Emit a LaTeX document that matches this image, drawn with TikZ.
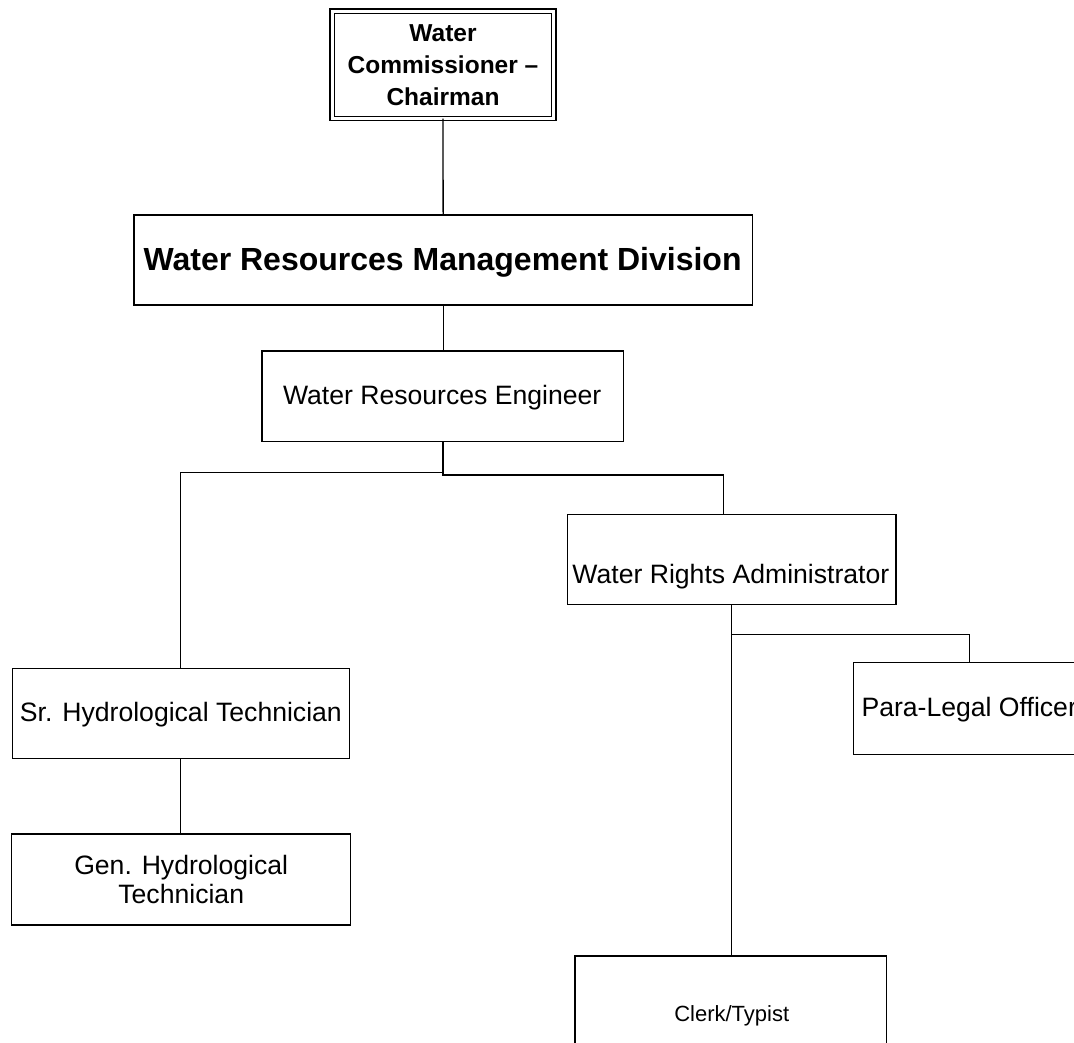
\documentclass[tikz,border=0pt]{standalone}
\usepackage{fontspec}
\setmainfont{Liberation Sans}
\usetikzlibrary{calc}
\begin{document}
\begin{tikzpicture}[x=1pt,y=-1pt,line width=1.3pt,
  orgbox/.style={draw,rectangle,inner sep=0pt,outer sep=0pt,line width=1.3pt},
  txt/.style={inner sep=0pt,outer sep=0pt,font=\fontsize{26.6}{31}\selectfont},
  conn/.style={draw,line width=1.3pt}]
\useasboundingbox (0,0) rectangle (1074,1042);
\clip (0,0) rectangle (1074,1042);
% boxes
\node[orgbox,double,double distance=3pt,minimum width=221.7pt,minimum height=107.55pt] (chair) at (443,64.9) {};
\node[orgbox,minimum width=618.3pt,minimum height=90pt] (wrmd) at (443.15,260) {};
\node[orgbox,minimum width=361.7pt,minimum height=90.7pt] (wre) at (442.85,396.35) {};
\node[orgbox,minimum width=328.7pt,minimum height=90pt] (wra) at (731.65,559.7) {};
\node[orgbox,minimum width=337pt,minimum height=90pt] (sht) at (180.8,713.3) {};
\node[orgbox,minimum width=339pt,minimum height=91pt] (ght) at (181.2,879.5) {};
\node[orgbox,minimum width=232pt,minimum height=91.6pt] (para) at (969.3,708.5) {};
\node[orgbox,minimum width=311.7pt,minimum height=104pt] (clerk) at (730.85,1008) {};
% texts
\node[inner sep=0pt,align=center,font=\fontsize{24.5}{32.2}\selectfont\bfseries] (chairt) at (chair.center) {Water\\Commissioner –\\Chairman};
\node[txt,anchor=base,font=\fontsize{32}{38}\selectfont\bfseries] (wrmdt) at (442.6,270.7) {Water Resources Management Division};
\node[txt,anchor=base] (wret) at (442.2,404.3) {Water Resources Engineer};
\node[txt,anchor=base] (wrat) at (730.9,583) {Water Rights Administrator};
\node[txt,anchor=base] (shtt) at (180.9,721.7) {Sr. Hydrological Technician};
\node[inner sep=0pt,align=center,font=\fontsize{26.6}{29.5}\selectfont] (ghtt) at (ght.center) {Gen. Hydrological\\Technician};
\node[txt,anchor=base west] (parat) at (861.5,716.7) {Para-Legal Officer};
\node[txt,anchor=base,font=\fontsize{22}{26}\selectfont] (clerkt) at (731.7,1021.7) {Clerk/Typist};
% connectors
\coordinate (wrain) at ($(wra.north)+(-8.3,0)$);
\draw[conn] (chair.south) -- (wrmd.north);
\draw[conn] (wrmd.south) -- (wrmd.south |- wre.north);
\draw[conn] (wre.south) -- ++(0,31) -| (sht.north);
\draw[conn] (wre.south) -- ++(0,33.3) -| (wrain);
\draw[conn] (wra.south) -- ++(0,29.6) -| (para.north);
\draw[conn] (wra.south) -- (wra.south |- clerk.north);
\draw[conn] (sht.south) -- (sht.south |- ght.north);
\end{tikzpicture}
\end{document}
